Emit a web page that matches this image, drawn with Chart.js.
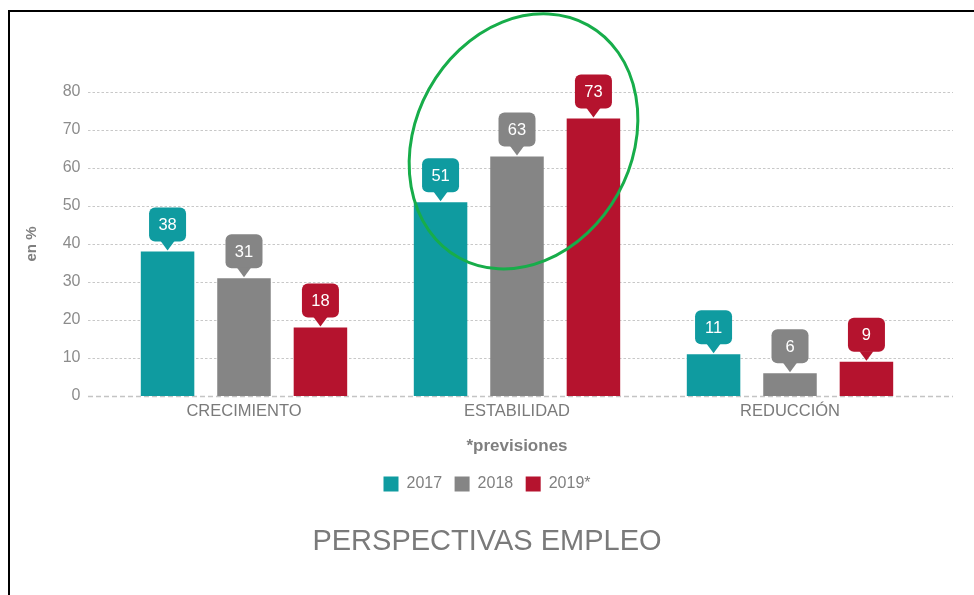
<!DOCTYPE html>
<html lang="es">
<head>
<meta charset="utf-8">
<title>Perspectivas empleo</title>
<script src="https://cdn.jsdelivr.net/npm/chart.js@4/dist/chart.umd.min.js"></script>
<style>
  html, body { margin: 0; padding: 0; background: #fff; }
  #wrap { position: relative; width: 974px; height: 595px; }
  #frame {
    position: absolute; left: 8px; top: 10px; right: 0; bottom: 0;
    border-top: 2px solid #000; border-left: 2px solid #000;
    pointer-events: none;
  }
</style>
</head>
<body>
<div id="wrap">
  <canvas id="empleoChart"></canvas>
  <div id="frame"></div>
</div>
<script>
/* ===== Perspectivas empleo ===== */

const categories = ['CRECIMIENTO', 'ESTABILIDAD', 'REDUCCIÓN'];
const seriesNames = ['2017', '2018', '2019*'];
const values2017 = [38, 51, 11];
const values2018 = [31, 63, 6];
const values2019 = [18, 73, 9];
const yTicks = [0, 10, 20, 30, 40, 50, 60, 70, 80];
const colors = ['#0f9ba0', '#858585', '#b5132e'];

// the green highlight ring around ESTABILIDAD (category + value of its centre)
const highlight = { category: 'ESTABILIDAD', value: 67, dx: 6.5, rx: 108, ry: 133, angle: 0.506 };

const FONT = '"Liberation Sans", Arial, Helvetica, sans-serif';

// dotted horizontal guides, a bit wider than the bar area
const guideLines = {
  id: 'guideLines',
  beforeDatasetsDraw(chart) {
    const { ctx, chartArea, scales: { y } } = chart;
    const x0 = chartArea.left - 19.5;
    const x1 = chartArea.right + 26.5;
    ctx.save();
    yTicks.forEach(v => {
      const py = Math.round(y.getPixelForValue(v)) + 0.5;
      ctx.beginPath();
      if (v === 0) {
        ctx.setLineDash([5, 3]);
        ctx.strokeStyle = '#c4c4c4';
        ctx.lineWidth = 1.5;
      } else {
        ctx.setLineDash([2.5, 2]);
        ctx.strokeStyle = '#c8c8c8';
        ctx.lineWidth = 1;
      }
      ctx.moveTo(x0, py);
      ctx.lineTo(x1, py);
      ctx.stroke();
    });
    ctx.restore();
  }
};

// speech-bubble value labels above each bar
const bubbleLabels = {
  id: 'bubbleLabels',
  afterDatasetsDraw(chart) {
    const { ctx } = chart;
    const w = 37, h = 34, r = 6, tip = 9, half = 7;
    ctx.save();
    chart.data.datasets.forEach((ds, i) => {
      chart.getDatasetMeta(i).data.forEach((bar, j) => {
        const x = bar.x, top = bar.y - 1;
        const bx = x - w / 2, by = top - tip - h;
        ctx.fillStyle = ds.backgroundColor;
        ctx.beginPath();
        ctx.roundRect(bx, by, w, h, r);
        ctx.fill();
        ctx.beginPath();
        ctx.moveTo(x - half, by + h - 0.5);
        ctx.lineTo(x + half, by + h - 0.5);
        ctx.lineTo(x, top);
        ctx.closePath();
        ctx.fill();
        ctx.fillStyle = '#ffffff';
        ctx.font = '16.5px ' + FONT;
        ctx.textAlign = 'center';
        ctx.textBaseline = 'middle';
        ctx.fillText(String(ds.data[j]), x, by + h / 2 + 1);
      });
    });
    ctx.restore();
  }
};

const highlightRing = {
  id: 'highlightRing',
  afterDraw(chart) {
    const { ctx, scales: { x, y } } = chart;
    const cx = x.getPixelForValue(categories.indexOf(highlight.category)) + highlight.dx;
    const cy = y.getPixelForValue(highlight.value);
    ctx.save();
    ctx.strokeStyle = '#17ad4a';
    ctx.lineWidth = 3;
    ctx.beginPath();
    ctx.ellipse(cx, cy, highlight.rx, highlight.ry, highlight.angle, 0, Math.PI * 2);
    ctx.stroke();
    ctx.restore();
  }
};

document.addEventListener('DOMContentLoaded', () => {
  const ctx = document.getElementById('empleoChart').getContext('2d');
  const series = [values2017, values2018, values2019];

  new Chart(ctx, {
    type: 'bar',
    data: {
      labels: categories,
      datasets: series.map((vals, i) => ({
        label: seriesNames[i],
        data: vals,
        backgroundColor: colors[i],
        borderWidth: 0,
        categoryPercentage: 0.84,
        barPercentage: 0.70
      }))
    },
    options: {
      responsive: true,
      maintainAspectRatio: false,
      animation: false,
      layout: { padding: { top: 92, right: 0, bottom: 35.6, left: 0 } },
      scales: {
        x: {
          grid: { display: false, drawTicks: false },
          border: { display: false },
          ticks: { color: '#7a7a7a', padding: 6, maxRotation: 0, font: { family: FONT, size: 16.5 } },
          title: {
            display: true, text: '*previsiones', color: '#7f7f7f',
            font: { family: FONT, size: 17, weight: 'bold', lineHeight: 1.2 },
            padding: { top: 8, bottom: 7.3 }
          }
        },
        y: {
          min: 0, max: 80,
          afterFit(scale) { scale.width = 107.5; },
          grid: { display: false, drawTicks: false },
          border: { display: false },
          ticks: { stepSize: 10, color: '#8c8c8c', padding: 27, font: { family: FONT, size: 16 } },
          title: {
            display: true, text: 'en %', color: '#7f7f7f',
            font: { family: FONT, size: 15, weight: 'bold', lineHeight: 1.2 },
            padding: { top: 23, bottom: 0 }
          }
        },
        // empty spacer on the right so legend and title stay centred on the page
        spacer: {
          type: 'linear',
          position: 'right',
          afterFit(scale) { scale.width = 47.5; },
          grid: { display: false, drawTicks: false },
          border: { display: false },
          ticks: { display: false }
        }
      },
      plugins: {
        legend: {
          position: 'bottom',
          labels: { boxWidth: 15, boxHeight: 15, padding: 12.5, color: '#808080', font: { family: FONT, size: 16 } }
        },
        title: {
          display: true, position: 'bottom', text: 'PERSPECTIVAS EMPLEO', color: '#7a7a7a',
          font: { family: FONT, size: 29, weight: 'normal', lineHeight: 1.2 },
          padding: { top: 22.6, bottom: 0 }
        },
        tooltip: { enabled: false }
      }
    },
    plugins: [guideLines, bubbleLabels, highlightRing]
  });
});
</script>
</body>
</html>
